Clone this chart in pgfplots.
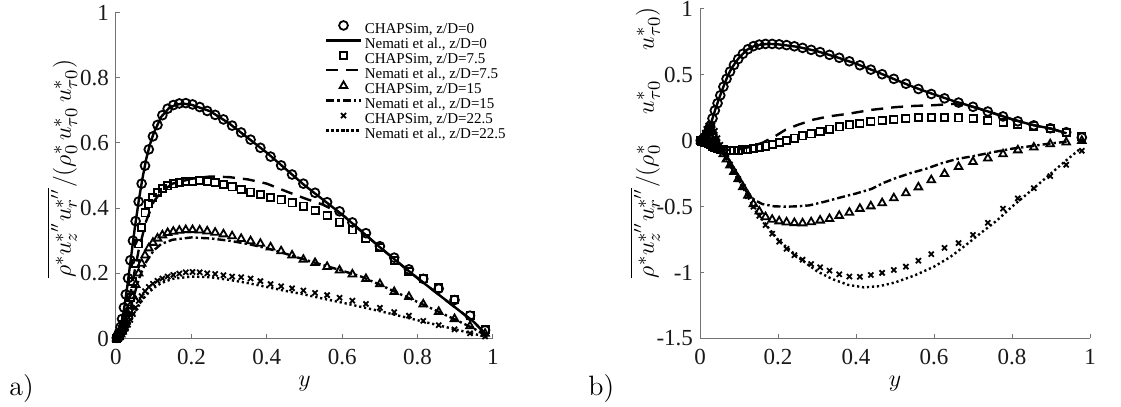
\documentclass[border=0pt]{standalone}
\usepackage{pgfplots}
\pgfplotsset{compat=1.18}
\usepackage{pgfplotstable}
\usepackage{fontspec}
\newfontfamily\tnr{Liberation Serif}

\pgfplotstableread{
x a b c d
0.002 0.002 0.001 0.001 0.001
0.005 0.008 0.004 0.003 0.002
0.008 0.018 0.009 0.007 0.004
0.012 0.035 0.017 0.013 0.008
0.016 0.060 0.028 0.022 0.013
0.021 0.095 0.043 0.035 0.020
0.026 0.135 0.062 0.052 0.030
0.032 0.185 0.090 0.075 0.042
0.038 0.240 0.125 0.100 0.057
0.045 0.300 0.175 0.130 0.075
0.052 0.360 0.230 0.165 0.095
0.060 0.420 0.290 0.200 0.115
0.068 0.475 0.340 0.230 0.130
0.077 0.530 0.385 0.255 0.145
0.087 0.580 0.413 0.277 0.158
0.098 0.620 0.433 0.294 0.168
0.110 0.655 0.448 0.307 0.177
0.123 0.685 0.460 0.317 0.184
0.137 0.705 0.468 0.324 0.190
0.152 0.716 0.474 0.328 0.195
0.168 0.721 0.478 0.331 0.199
0.185 0.722 0.481 0.333 0.203
0.203 0.718 0.483 0.333 0.204
0.222 0.710 0.484 0.332 0.203
0.242 0.698 0.482 0.329 0.200
0.263 0.686 0.479 0.325 0.198
0.285 0.672 0.473 0.320 0.194
0.308 0.653 0.465 0.314 0.190
0.332 0.632 0.457 0.306 0.188
0.357 0.610 0.449 0.299 0.184
0.383 0.585 0.441 0.291 0.176
0.410 0.558 0.433 0.280 0.167
0.438 0.531 0.425 0.268 0.160
0.467 0.503 0.416 0.255 0.154
0.497 0.475 0.406 0.242 0.147
0.528 0.447 0.393 0.232 0.140
0.560 0.418 0.378 0.220 0.133
0.593 0.390 0.357 0.209 0.125
0.627 0.356 0.333 0.197 0.116
0.663 0.323 0.307 0.183 0.106
0.700 0.283 0.279 0.167 0.094
0.738 0.248 0.240 0.143 0.081
0.777 0.212 0.205 0.128 0.070
0.815 0.183 0.183 0.105 0.054
0.856 0.153 0.155 0.082 0.041
0.898 0.118 0.120 0.060 0.028
0.939 0.070 0.072 0.038 0.016
0.979 0.025 0.028 0.015 0.006
}\leftmarks

\pgfplotstableread{
x a b c d
0.002 0.002 0.000 0.003 0.004
0.005 0.006 -0.002 0.012 0.015
0.008 0.012 -0.005 0.025 0.035
0.012 0.025 -0.010 0.045 0.060
0.016 0.040 -0.015 0.065 0.090
0.021 0.070 -0.022 0.082 0.115
0.026 0.110 -0.030 0.088 0.130
0.032 0.170 -0.040 0.068 0.115
0.038 0.230 -0.050 0.030 0.075
0.045 0.285 -0.058 -0.020 0.020
0.052 0.345 -0.064 -0.060 -0.030
0.060 0.410 -0.069 -0.100 -0.080
0.068 0.470 -0.072 -0.140 -0.130
0.077 0.525 -0.074 -0.185 -0.180
0.087 0.575 -0.074 -0.235 -0.235
0.098 0.620 -0.072 -0.290 -0.290
0.110 0.660 -0.069 -0.350 -0.350
0.123 0.695 -0.065 -0.415 -0.420
0.137 0.718 -0.058 -0.480 -0.500
0.152 0.730 -0.050 -0.535 -0.570
0.168 0.735 -0.040 -0.578 -0.640
0.185 0.735 -0.027 -0.598 -0.705
0.203 0.732 -0.012 -0.610 -0.765
0.222 0.726 0.003 -0.618 -0.820
0.242 0.717 0.020 -0.623 -0.868
0.263 0.705 0.037 -0.625 -0.902
0.285 0.690 0.053 -0.617 -0.935
0.308 0.673 0.070 -0.604 -0.960
0.332 0.652 0.088 -0.592 -0.985
0.357 0.630 0.105 -0.568 -1.013
0.383 0.603 0.120 -0.544 -1.030
0.410 0.573 0.133 -0.515 -1.032
0.438 0.540 0.145 -0.496 -1.018
0.467 0.505 0.155 -0.472 -1.002
0.497 0.470 0.163 -0.435 -0.980
0.528 0.433 0.170 -0.397 -0.955
0.560 0.393 0.175 -0.352 -0.910
0.593 0.355 0.177 -0.298 -0.860
0.627 0.322 0.177 -0.250 -0.812
0.663 0.290 0.173 -0.197 -0.776
0.700 0.258 0.168 -0.159 -0.714
0.738 0.222 0.155 -0.133 -0.622
0.777 0.185 0.138 -0.101 -0.515
0.815 0.148 0.125 -0.071 -0.437
0.856 0.117 0.111 -0.050 -0.360
0.898 0.095 0.094 -0.025 -0.268
0.939 0.065 0.063 -0.012 -0.182
0.979 0.025 0.035 0.000 -0.076
}\rightmarks

\begin{document}
\begin{tikzpicture}
\useasboundingbox (0pt,0pt) rectangle (560.5pt,203.5pt);
\pgfplotsset{
  myaxis/.style={
    scale only axis, anchor=south west,
    axis x line*=bottom, axis y line*=left,
    axis line style={-, black!55, line width=0.5pt},
    tick align=inside, major tick length=2pt,
    tick style={black!55, line width=0.5pt},
    xmin=0, xmax=1, xtick={0,0.2,0.4,0.6,0.8,1},
    tick label style={font=\tnr\fontsize{11.5}{13}\selectfont, text=black!90},
    /pgf/number format/assume math mode=true,
    xticklabel style={yshift=-2pt},
    clip=false,
    xlabel={$y$},
    xlabel style={font=\fontsize{13.2}{15}\selectfont, at={(axis description cs:0.5,-0.146)}, anchor=base},
    ylabel style={font=\fontsize{13.2}{15}\selectfont},
  },
  mk/.style={only marks, black, mark options={line width=0.9pt, solid, fill=none}},
  ln/.style={black, line width=1.2pt, no marks},
  dsh/.style={dash pattern=on 6pt off 4pt},
  dd/.style={dash pattern=on 4pt off 1.5pt on 1.2pt off 1.5pt},
  dt/.style={dash pattern=on 1.1pt off 1.4pt},
}

\begin{axis}[myaxis, at={(58pt,34.25pt)}, width=188.5pt, height=163pt,
  ymin=0, ymax=1, ytick={0,0.2,0.4,0.6,0.8,1},
  ylabel={$\overline{\rho^*u_z^{*''}u_r^{*''}}/(\rho_0^*\,u_{\tau 0}^*\,u_{\tau 0}^*)$},
  ylabel style={at={(axis description cs:-0.143,0.164)}, anchor=west},
  legend cell align=left,
  legend image post style={yshift=1.9pt},
  legend style={at={(axis description cs:0.554,0.975)}, anchor=north west,
    draw=none, fill=none, inner sep=0pt,
    font=\tnr\fontsize{7.5}{7.5}\selectfont, row sep=0pt,
    nodes={inner ysep=0.5pt, inner xsep=1.5pt, text height=5.4pt, text depth=1.05pt}},
]
\addplot[mk, mark=o, mark size=2.2pt] table[x=x,y=a]{\leftmarks};
\addlegendentry{CHAPSim, z/D=0}
\addplot[ln] coordinates {(0,0) (0.01,0.025) (0.02,0.08) (0.03,0.16) (0.04,0.25) (0.05,0.34) (0.06,0.42) (0.07,0.49) (0.08,0.55) (0.09,0.595) (0.1,0.63) (0.12,0.68) (0.14,0.706) (0.16,0.718) (0.18,0.72) (0.2,0.717) (0.25,0.697) (0.3,0.66) (0.35,0.615) (0.4,0.57) (0.45,0.52) (0.5,0.47) (0.55,0.425) (0.6,0.38) (0.65,0.33) (0.7,0.28) (0.75,0.232) (0.8,0.185) (0.85,0.14) (0.9,0.095) (0.95,0.05) (0.985,0.008)};
\addlegendentry{Nemati et al., z/D=0}
\addplot[mk, mark=square, mark size=1.8pt] table[x=x,y=b]{\leftmarks};
\addlegendentry{CHAPSim, z/D=7.5}
\addplot[ln, dsh] coordinates {(0,0) (0.02,0.05) (0.04,0.15) (0.06,0.27) (0.08,0.36) (0.1,0.42) (0.12,0.45) (0.15,0.475) (0.2,0.49) (0.25,0.497) (0.3,0.495) (0.35,0.488) (0.4,0.475) (0.45,0.452) (0.5,0.43) (0.55,0.41) (0.6,0.38) (0.65,0.33) (0.7,0.28) (0.75,0.232) (0.8,0.185) (0.85,0.14) (0.9,0.095) (0.95,0.05) (0.985,0.008)};
\addlegendentry{Nemati et al., z/D=7.5}
\addplot[mk, mark=triangle, mark size=2.2pt] table[x=x,y=c]{\leftmarks};
\addlegendentry{CHAPSim, z/D=15}
\addplot[ln, dd] coordinates {(0,0) (0.01,0.01) (0.02,0.03) (0.03,0.06) (0.04,0.1) (0.05,0.14) (0.06,0.18) (0.07,0.21) (0.08,0.235) (0.1,0.27) (0.12,0.29) (0.15,0.303) (0.2,0.31) (0.25,0.307) (0.3,0.3) (0.35,0.29) (0.4,0.277) (0.45,0.26) (0.5,0.242) (0.55,0.225) (0.6,0.208) (0.65,0.19) (0.7,0.165) (0.75,0.138) (0.8,0.112) (0.85,0.085) (0.9,0.058) (0.95,0.03) (0.985,0.006)};
\addlegendentry{Nemati et al., z/D=15}
\addplot[mk, mark=x, mark size=1.8pt] table[x=x,y=d]{\leftmarks};
\addlegendentry{CHAPSim, z/D=22.5}
\addplot[ln, dt] coordinates {(0,0) (0.01,0.005) (0.02,0.015) (0.03,0.032) (0.04,0.055) (0.05,0.08) (0.06,0.1) (0.07,0.118) (0.08,0.133) (0.1,0.155) (0.12,0.17) (0.15,0.183) (0.2,0.19) (0.25,0.188) (0.3,0.18) (0.35,0.17) (0.4,0.158) (0.45,0.146) (0.5,0.135) (0.55,0.122) (0.6,0.11) (0.65,0.097) (0.7,0.084) (0.75,0.07) (0.8,0.056) (0.85,0.042) (0.9,0.028) (0.95,0.014) (0.985,0.004)};
\addlegendentry{Nemati et al., z/D=22.5}
\end{axis}

\begin{axis}[myaxis, at={(350pt,34.25pt)}, width=195pt, height=164.75pt,
  ymin=-1.5, ymax=1, ytick={-1.5,-1,-0.5,0,0.5,1},
  ylabel={$\overline{\rho^*u_z^{*''}u_r^{*''}}/(\rho_0^*\quad\,u_{\tau 0}^*\quad\,u_{\tau 0}^*)$},
  ylabel style={at={(axis description cs:-0.141,0.162)}, anchor=west},
]
\addplot[mk, mark=o, mark size=2.2pt] table[x=x,y=a]{\rightmarks};
\addplot[ln] coordinates {(0,0) (0.01,0.02) (0.02,0.065) (0.03,0.15) (0.04,0.245) (0.05,0.33) (0.06,0.41) (0.07,0.485) (0.08,0.545) (0.09,0.59) (0.1,0.63) (0.12,0.69) (0.14,0.72) (0.16,0.733) (0.18,0.735) (0.2,0.732) (0.25,0.713) (0.3,0.68) (0.35,0.635) (0.4,0.585) (0.45,0.527) (0.5,0.465) (0.55,0.405) (0.6,0.352) (0.65,0.302) (0.7,0.258) (0.75,0.212) (0.8,0.163) (0.85,0.122) (0.9,0.092) (0.94,0.057)};
\addplot[mk, mark=square, mark size=1.8pt] table[x=x,y=b]{\rightmarks};
\addplot[ln, dsh] coordinates {(0,0) (0.02,-0.02) (0.04,-0.05) (0.06,-0.065) (0.08,-0.07) (0.1,-0.065) (0.13,-0.045) (0.16,-0.015) (0.19,0.03) (0.22,0.085) (0.25,0.12) (0.29,0.16) (0.33,0.185) (0.38,0.205) (0.44,0.235) (0.5,0.255) (0.55,0.265) (0.6,0.27) (0.65,0.28) (0.7,0.258) (0.75,0.212) (0.8,0.163) (0.85,0.122) (0.9,0.092) (0.94,0.057)};
\addplot[mk, mark=triangle, mark size=2.2pt] table[x=x,y=c]{\rightmarks};
\addplot[ln, dd] coordinates {(0,0) (0.01,0.03) (0.02,0.07) (0.03,0.05) (0.04,0.0) (0.06,-0.1) (0.08,-0.2) (0.1,-0.3) (0.12,-0.39) (0.14,-0.45) (0.16,-0.48) (0.19,-0.497) (0.22,-0.5) (0.25,-0.497) (0.28,-0.49) (0.32,-0.462) (0.36,-0.43) (0.4,-0.4) (0.44,-0.365) (0.47,-0.32) (0.5,-0.285) (0.54,-0.245) (0.58,-0.212) (0.62,-0.17) (0.66,-0.137) (0.7,-0.117) (0.75,-0.087) (0.8,-0.06) (0.85,-0.04) (0.9,-0.02) (0.94,-0.007)};
\addplot[mk, mark=x, mark size=1.8pt] table[x=x,y=d]{\rightmarks};
\addplot[ln, dt] coordinates {(0,0) (0.01,0.04) (0.02,0.09) (0.03,0.08) (0.04,0.03) (0.05,-0.04) (0.06,-0.1) (0.08,-0.2) (0.1,-0.3) (0.12,-0.41) (0.14,-0.52) (0.17,-0.64) (0.2,-0.75) (0.25,-0.88) (0.3,-0.99) (0.34,-1.05) (0.38,-1.093) (0.42,-1.112) (0.46,-1.103) (0.5,-1.075) (0.55,-1.022) (0.6,-0.955) (0.64,-0.885) (0.68,-0.795) (0.72,-0.7) (0.76,-0.608) (0.8,-0.5) (0.85,-0.375) (0.89,-0.273) (0.93,-0.171) (0.976,-0.058)};
\end{axis}

\node[anchor=base west, font=\fontsize{14}{16}\selectfont, inner sep=0pt] at (4.5pt,5.5pt) {a)};
\node[anchor=base west, font=\fontsize{14}{16}\selectfont, inner sep=0pt] at (294pt,5.5pt) {b)};
\end{tikzpicture}
\end{document}
